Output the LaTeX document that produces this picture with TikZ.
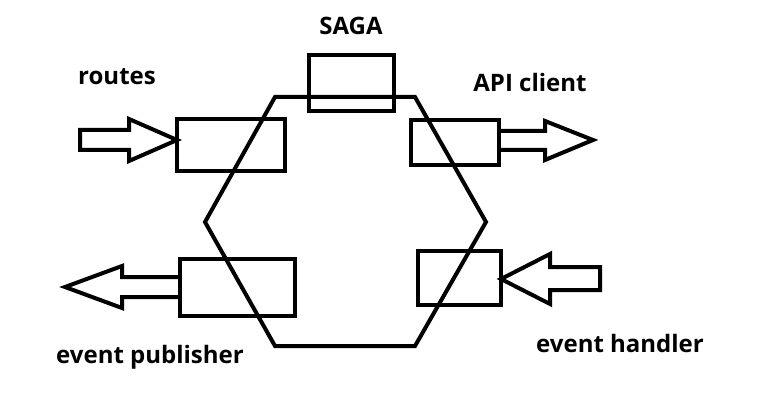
\documentclass[tikz,border=0pt]{standalone}
\usepackage{fontspec}
\setmainfont{Open Sans}
\begin{document}
\begin{tikzpicture}[x=1pt,y=-1pt, line width=4pt, line join=miter,
  box/.style={draw, line width=4pt, inner sep=0pt},
  lbl/.style={font=\fontsize{24}{28}\selectfont\bfseries, inner sep=0pt},
  blockarrow/.style={draw, line width=4pt, line join=miter}]
\useasboundingbox (0,0) rectangle (768,414);
% hexagon
\coordinate (h1) at (275,97);
\coordinate (h2) at (415,97);
\coordinate (h3) at (486,222);
\coordinate (h4) at (415,346);
\coordinate (h5) at (275,346);
\coordinate (h6) at (205,222);
\draw (h1) -- (h2) -- (h3) -- (h4) -- (h5) -- (h6) -- cycle;
% boxes
\node[box, minimum width=108pt, minimum height=52pt] (routes) at (231,145) {};
\node[box, minimum width=85pt, minimum height=56pt] (saga) at (351.5,83) {};
\node[box, minimum width=88pt, minimum height=45pt] (api) at (455,142.5) {};
\node[box, minimum width=115pt, minimum height=57pt] (pub) at (237.5,287.5) {};
\node[box, minimum width=83pt, minimum height=54pt] (hand) at (459.5,278) {};
% block arrows
\draw[blockarrow] (80,130) -- (129,130) -- (129,119) -- (177,140) -- (129,161) -- (129,150) -- (80,150) -- cycle;
\draw[blockarrow] (499,131) -- (545,131) -- (545,121) -- (593,140) -- (545,160) -- (545,150) -- (499,150);
\draw[blockarrow] (180,277) -- (122,277) -- (122,266) -- (65,287) -- (122,308) -- (122,297) -- (180,297);
\draw[blockarrow] (501,279) -- (550,254) -- (550,267) -- (600,267) -- (600,290) -- (550,290) -- (550,304) -- cycle;
% labels
\node[lbl] (tRoutes) at (117,77) {routes};
\node[lbl] (tSaga) at (351,26) {SAGA};
\node[lbl] (tApi) at (530,83) {API client};
\node[lbl] (tPub) at (150,357) {event publisher};
\node[lbl] (tHand) at (620,343) {event handler};
\end{tikzpicture}
\end{document}
